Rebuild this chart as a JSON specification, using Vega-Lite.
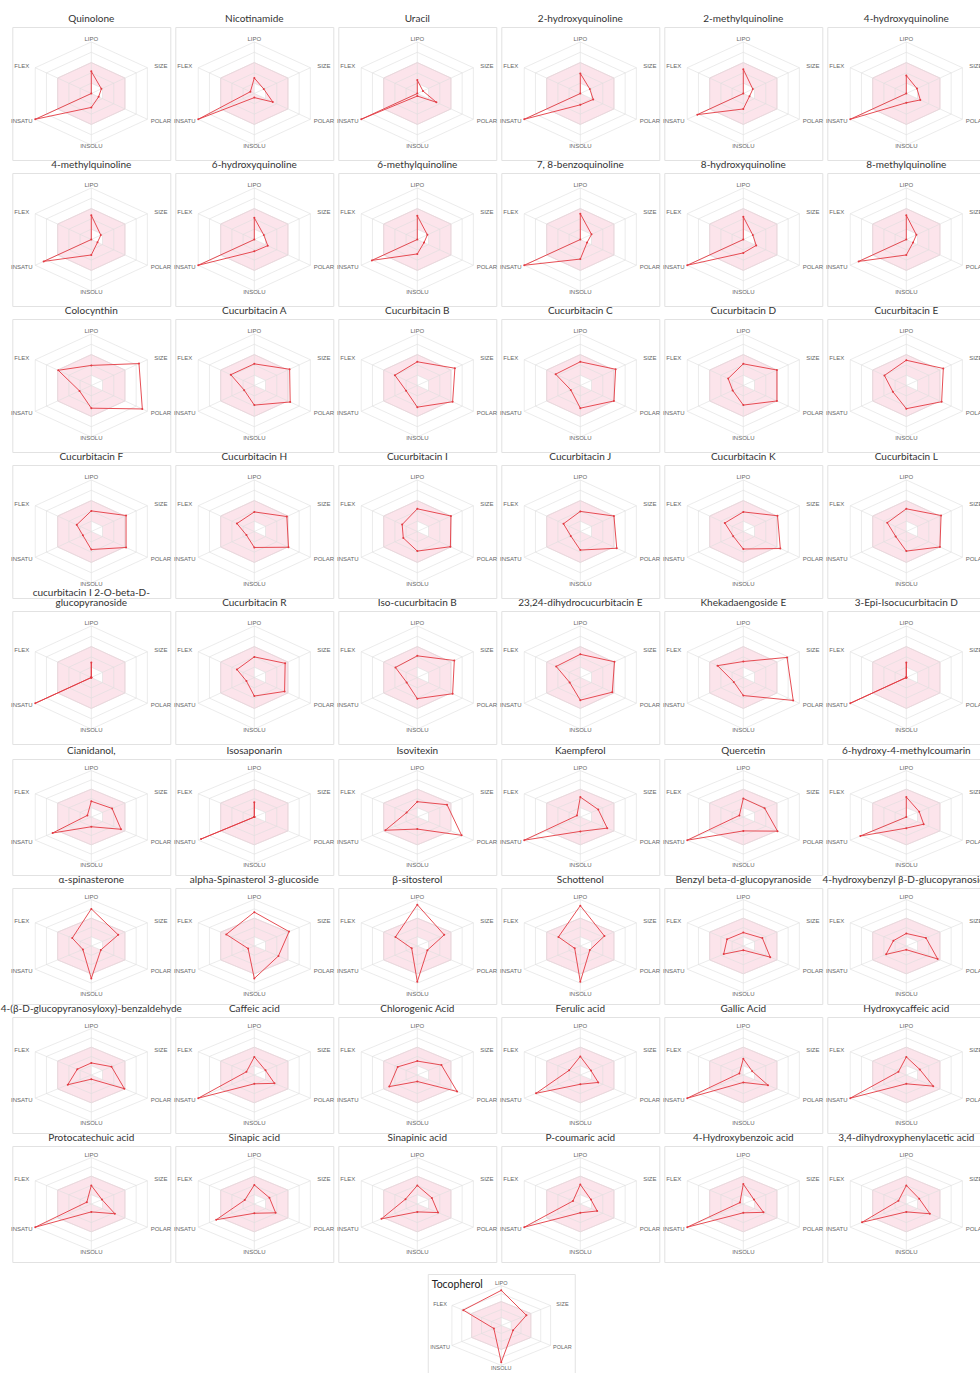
{
"$schema": "https://vega.github.io/schema/vega-lite/v6.json",
"padding": {"left": 0, "top": 13, "right": 0, "bottom": 0},
"background": "white",
"config": {"view": {"stroke": "#e2e2e2", "strokeWidth": 1}, "font": "Lato"},
"datasets": {
"d1": [
{"i":1,"m":"Quinolone","LIPO":0.43,"SIZE":0.18,"POLAR":0.13,"INSOLU":0.27,"INSATU":1.0,"FLEX":0},
{"i":2,"m":"Nicotinamide","LIPO":0.30,"SIZE":0.17,"POLAR":0.33,"INSOLU":0.08,"INSATU":1.0,"FLEX":0.07},
{"i":3,"m":"Uracil","LIPO":0.26,"SIZE":0.10,"POLAR":0.34,"INSOLU":0.05,"INSATU":1.0,"FLEX":0},
{"i":4,"m":"2-hydroxyquinoline","LIPO":0.39,"SIZE":0.17,"POLAR":0.23,"INSOLU":0.22,"INSATU":1.0,"FLEX":0},
{"i":5,"m":"2-methylquinoline","LIPO":0.47,"SIZE":0.17,"POLAR":0.11,"INSOLU":0.30,"INSATU":0.82,"FLEX":0},
{"i":6,"m":"4-hydroxyquinoline","LIPO":0.35,"SIZE":0.19,"POLAR":0.25,"INSOLU":0.18,"INSATU":1.0,"FLEX":0},
{"i":7,"m":"4-methylquinoline","LIPO":0.47,"SIZE":0.17,"POLAR":0.11,"INSOLU":0.30,"INSATU":0.85,"FLEX":0},
{"i":8,"m":"6-hydroxyquinoline","LIPO":0.42,"SIZE":0.17,"POLAR":0.24,"INSOLU":0.23,"INSATU":1.0,"FLEX":0},
{"i":9,"m":"6-methylquinoline","LIPO":0.46,"SIZE":0.18,"POLAR":0.12,"INSOLU":0.28,"INSATU":0.81,"FLEX":0},
{"i":10,"m":"7, 8-benzoquinoline","LIPO":0.50,"SIZE":0.20,"POLAR":0.12,"INSOLU":0.38,"INSATU":1.0,"FLEX":0},
{"i":11,"m":"8-hydroxyquinoline","LIPO":0.44,"SIZE":0.17,"POLAR":0.23,"INSOLU":0.26,"INSATU":1.0,"FLEX":0},
{"i":12,"m":"8-methylquinoline","LIPO":0.47,"SIZE":0.18,"POLAR":0.12,"INSOLU":0.30,"INSATU":0.85,"FLEX":0},
{"i":13,"m":"Colocynthin","LIPO":0.39,"SIZE":0.85,"POLAR":0.91,"INSOLU":0.44,"INSATU":0.21,"FLEX":0.59},
{"i":14,"m":"Cucurbitacin A","LIPO":0.42,"SIZE":0.63,"POLAR":0.64,"INSOLU":0.38,"INSATU":0.18,"FLEX":0.42},
{"i":15,"m":"Cucurbitacin B","LIPO":0.46,"SIZE":0.67,"POLAR":0.63,"INSOLU":0.42,"INSATU":0.20,"FLEX":0.40},
{"i":16,"m":"Cucurbitacin C","LIPO":0.46,"SIZE":0.63,"POLAR":0.60,"INSOLU":0.44,"INSATU":0.17,"FLEX":0.44},
{"i":17,"m":"Cucurbitacin D","LIPO":0.42,"SIZE":0.60,"POLAR":0.60,"INSOLU":0.38,"INSATU":0.19,"FLEX":0.27},
{"i":18,"m":"Cucurbitacin E","LIPO":0.49,"SIZE":0.66,"POLAR":0.63,"INSOLU":0.45,"INSATU":0.24,"FLEX":0.39},
{"i":19,"m":"Cucurbitacin F","LIPO":0.40,"SIZE":0.62,"POLAR":0.62,"INSOLU":0.35,"INSATU":0.15,"FLEX":0.26},
{"i":20,"m":"Cucurbitacin H","LIPO":0.38,"SIZE":0.58,"POLAR":0.61,"INSOLU":0.31,"INSATU":0.14,"FLEX":0.31},
{"i":21,"m":"Cucurbitacin I","LIPO":0.44,"SIZE":0.60,"POLAR":0.59,"INSOLU":0.38,"INSATU":0.25,"FLEX":0.27},
{"i":22,"m":"Cucurbitacin J","LIPO":0.39,"SIZE":0.60,"POLAR":0.65,"INSOLU":0.36,"INSATU":0.17,"FLEX":0.30},
{"i":23,"m":"Cucurbitacin K","LIPO":0.38,"SIZE":0.61,"POLAR":0.66,"INSOLU":0.34,"INSATU":0.18,"FLEX":0.33},
{"i":24,"m":"Cucurbitacin L","LIPO":0.44,"SIZE":0.62,"POLAR":0.60,"INSOLU":0.38,"INSATU":0.19,"FLEX":0.34},
{"i":25,"m":"cucurbitacin I 2-O-beta-D-glucopyranoside","LIPO":0.29,"SIZE":0,"POLAR":0,"INSOLU":0,"INSATU":1.0,"FLEX":0},
{"i":26,"m":"Cucurbitacin R","LIPO":0.40,"SIZE":0.55,"POLAR":0.54,"INSOLU":0.36,"INSATU":0.14,"FLEX":0.31},
{"i":27,"m":"Iso-cucurbitacin B","LIPO":0.42,"SIZE":0.66,"POLAR":0.63,"INSOLU":0.41,"INSATU":0.19,"FLEX":0.39},
{"i":28,"m":"23,24-dihydrocucurbitacin E","LIPO":0.45,"SIZE":0.61,"POLAR":0.57,"INSOLU":0.44,"INSATU":0.19,"FLEX":0.43},
{"i":29,"m":"Khekadaengoside E","LIPO":0.31,"SIZE":0.78,"POLAR":0.89,"INSOLU":0.35,"INSATU":0.17,"FLEX":0.46},
{"i":30,"m":"3-Epi-Isocucurbitacin D","LIPO":0.29,"SIZE":0,"POLAR":0,"INSOLU":0,"INSATU":1.0,"FLEX":0}
],
"d2": [
{"i":31,"m":"Cianidanol,","LIPO":0.34,"SIZE":0.37,"POLAR":0.53,"INSOLU":0.21,"INSATU":0.69,"FLEX":0.07},
{"i":32,"m":"Isosaponarin","LIPO":0.32,"SIZE":0,"POLAR":0,"INSOLU":0,"INSATU":0.95,"FLEX":0},
{"i":33,"m":"Isovitexin","LIPO":0.33,"SIZE":0.53,"POLAR":0.79,"INSOLU":0.26,"INSATU":0.57,"FLEX":0.19},
{"i":34,"m":"Kaempferol","LIPO":0.43,"SIZE":0.32,"POLAR":0.48,"INSOLU":0.31,"INSATU":1.0,"FLEX":0.06},
{"i":35,"m":"Quercetin","LIPO":0.40,"SIZE":0.38,"POLAR":0.61,"INSOLU":0.30,"INSATU":1.0,"FLEX":0.07},
{"i":36,"m":"6-hydroxy-4-methylcoumarin","LIPO":0.43,"SIZE":0.23,"POLAR":0.31,"INSOLU":0.24,"INSATU":0.82,"FLEX":0},
{"i":37,"m":"α-spinasterone","LIPO":0.80,"SIZE":0.48,"POLAR":0.17,"INSOLU":0.70,"INSATU":0.15,"FLEX":0.34},
{"i":38,"m":"alpha-Spinasterol 3-glucoside","LIPO":0.73,"SIZE":0.62,"POLAR":0.43,"INSOLU":0.70,"INSATU":0.11,"FLEX":0.50},
{"i":39,"m":"β-sitosterol","LIPO":0.89,"SIZE":0.48,"POLAR":0.18,"INSOLU":0.77,"INSATU":0.10,"FLEX":0.39},
{"i":40,"m":"Schottenol","LIPO":0.87,"SIZE":0.43,"POLAR":0.17,"INSOLU":0.77,"INSATU":0.10,"FLEX":0.39},
{"i":41,"m":"Benzyl beta-d-glucopyranoside","LIPO":0.29,"SIZE":0.34,"POLAR":0.48,"INSOLU":0.09,"INSATU":0.35,"FLEX":0.29},
{"i":42,"m":"4-hydroxybenzyl β-D-glucopyranoside","LIPO":0.27,"SIZE":0.35,"POLAR":0.56,"INSOLU":0.08,"INSATU":0.36,"FLEX":0.23},
{"i":43,"m":"4-(β-D-glucopyranosyloxy)-benzaldehyde","LIPO":0.26,"SIZE":0.36,"POLAR":0.59,"INSOLU":0.09,"INSATU":0.42,"FLEX":0.25},
{"i":44,"m":"Caffeic acid","LIPO":0.39,"SIZE":0.20,"POLAR":0.36,"INSOLU":0.19,"INSATU":1.0,"FLEX":0.14},
{"i":45,"m":"Chlorogenic Acid","LIPO":0.30,"SIZE":0.43,"POLAR":0.71,"INSOLU":0.14,"INSATU":0.50,"FLEX":0.35},
{"i":46,"m":"Ferulic acid","LIPO":0.40,"SIZE":0.19,"POLAR":0.32,"INSOLU":0.20,"INSATU":0.79,"FLEX":0.20},
{"i":47,"m":"Gallic Acid","LIPO":0.35,"SIZE":0.16,"POLAR":0.44,"INSOLU":0.16,"INSATU":1.0,"FLEX":0.07},
{"i":48,"m":"Hydroxycaffeic acid","LIPO":0.39,"SIZE":0.24,"POLAR":0.48,"INSOLU":0.19,"INSATU":1.0,"FLEX":0.14},
{"i":49,"m":"Protocatechuic acid","LIPO":0.40,"SIZE":0.19,"POLAR":0.42,"INSOLU":0.17,"INSATU":1.0,"FLEX":0.08},
{"i":50,"m":"Sinapic acid","LIPO":0.41,"SIZE":0.27,"POLAR":0.38,"INSOLU":0.20,"INSATU":0.68,"FLEX":0.17},
{"i":51,"m":"Sinapinic acid","LIPO":0.40,"SIZE":0.26,"POLAR":0.37,"INSOLU":0.17,"INSATU":0.64,"FLEX":0.21},
{"i":52,"m":"P-coumaric acid","LIPO":0.42,"SIZE":0.19,"POLAR":0.30,"INSOLU":0.19,"INSATU":1.0,"FLEX":0.13},
{"i":53,"m":"4-Hydroxybenzoic acid","LIPO":0.43,"SIZE":0.19,"POLAR":0.36,"INSOLU":0.19,"INSATU":1.0,"FLEX":0.06},
{"i":54,"m":"3,4-dihydroxyphenylacetic acid","LIPO":0.40,"SIZE":0.23,"POLAR":0.42,"INSOLU":0.17,"INSATU":0.79,"FLEX":0.14}
],
"d3": [
{"i":55,"m":"Tocopherol","LIPO":0.88,"SIZE":0.51,"POLAR":0.24,"INSOLU":0.92,"INSATU":0.15,"FLEX":0.77}
]
},
"vconcat": [
{
"vconcat": [
{
"data": {"name": "d1"},
"bounds": "flush",
"transform": [
{"fold": ["LIPO","SIZE","POLAR","INSOLU","INSATU","FLEX"], "as": ["p","v"]},
{"calculate": "indexof(['LIPO','SIZE','POLAR','INSOLU','INSATU','FLEX'], datum.p)", "as": "a"},
{"calculate": "sin(datum.a*PI/3)", "as": "s"},
{"calculate": "cos(datum.a*PI/3)", "as": "c"}
],
"facet": {"field": "m", "type": "nominal", "sort": {"field": "i", "op": "min"},
"header": {"title": null, "labelFontSize": 10, "labelFont": "Lato", "labelColor": "#333", "labelPadding": 3, "labelLineHeight": 10,
"labelExpr": "datum.value == 'cucurbitacin I 2-O-beta-D-glucopyranoside' ? ['cucurbitacin I 2-O-beta-D-', 'glucopyranoside'] : datum.value"}},
"columns": 6,
"spacing": {"row": 13, "column": 5},
"spec": {
"width": 158, "height": 133,
"encoding": {
"x": {"field": "px", "type": "quantitative", "scale": {"domain": [-1.22, 1.22]}, "axis": null},
"y": {"field": "py", "type": "quantitative", "scale": {"domain": [-1.29, 1.29]}, "axis": null}
},
"layer": [
{"transform": [{"calculate": "0.6*datum.s", "as": "px"}, {"calculate": "0.6*datum.c", "as": "py"}],
"mark": {"type": "line", "interpolate": "linear-closed", "fill": "#fce4eb", "stroke": "#f2cbd6", "strokeWidth": 0.8},
"encoding": {"order": {"field": "a"}}},
{"transform": [{"calculate": "(datum.a<=2?0.2:0)*datum.s", "as": "px"}, {"calculate": "(datum.a<=2?0.2:0)*datum.c", "as": "py"}],
"mark": {"type": "line", "interpolate": "linear-closed", "fill": "#ffffff", "strokeWidth": 0},
"encoding": {"order": {"field": "a"}}},
{"transform": [{"calculate": "[0.2,0.4,0.6,0.8,1]", "as": "lv"}, {"flatten": ["lv"]}, {"calculate": "datum.lv*datum.s", "as": "px"}, {"calculate": "datum.lv*datum.c", "as": "py"}],
"mark": {"type": "line", "interpolate": "linear-closed", "stroke": "#dedede", "strokeWidth": 0.6},
"encoding": {"order": {"field": "a"}, "detail": {"field": "lv"}}},
{"transform": [{"calculate": "datum.s", "as": "px"}, {"calculate": "datum.c", "as": "py"}],
"mark": {"type": "rule", "stroke": "#dedede", "strokeWidth": 0.6},
"encoding": {"x": {"datum": 0, "type": "quantitative", "axis": null}, "y": {"datum": 0, "type": "quantitative", "axis": null}, "x2": {"field": "px"}, "y2": {"field": "py"}}},
{"transform": [{"calculate": "datum.v*datum.s", "as": "px"}, {"calculate": "datum.v*datum.c", "as": "py"}],
"mark": {"type": "line", "interpolate": "linear-closed", "color": "#e33a42", "strokeWidth": 0.9, "point": {"filled": true, "size": 4, "color": "#e33a42"}},
"encoding": {"order": {"field": "a"}}},
{"transform": [{"calculate": "1.24*datum.s", "as": "px"}, {"calculate": "(datum.a==3?1.02:1.06)*datum.c", "as": "py"}],
"mark": {"type": "text", "fontSize": 6, "font": "Liberation Sans", "color": "#666"},
"encoding": {"text": {"field": "p"}}}
]
}
},
{
"data": {"name": "d2"},
"bounds": "flush",
"transform": [
{"fold": ["LIPO","SIZE","POLAR","INSOLU","INSATU","FLEX"], "as": ["p","v"]},
{"calculate": "indexof(['LIPO','SIZE','POLAR','INSOLU','INSATU','FLEX'], datum.p)", "as": "a"},
{"calculate": "sin(datum.a*PI/3)", "as": "s"},
{"calculate": "cos(datum.a*PI/3)", "as": "c"}
],
"facet": {"field": "m", "type": "nominal", "sort": {"field": "i", "op": "min"},
"header": {"title": null, "labelFontSize": 10, "labelFont": "Lato", "labelColor": "#333", "labelPadding": 3}},
"columns": 6,
"spacing": {"row": 13, "column": 5},
"spec": {
"width": 158, "height": 116,
"encoding": {
"x": {"field": "px", "type": "quantitative", "scale": {"domain": [-1.22, 1.22]}, "axis": null},
"y": {"field": "py", "type": "quantitative", "scale": {"domain": [-1.25, 1.25]}, "axis": null}
},
"layer": [
{"transform": [{"calculate": "0.6*datum.s", "as": "px"}, {"calculate": "0.6*datum.c", "as": "py"}],
"mark": {"type": "line", "interpolate": "linear-closed", "fill": "#fce4eb", "stroke": "#f2cbd6", "strokeWidth": 0.8},
"encoding": {"order": {"field": "a"}}},
{"transform": [{"calculate": "(datum.a<=2?0.2:0)*datum.s", "as": "px"}, {"calculate": "(datum.a<=2?0.2:0)*datum.c", "as": "py"}],
"mark": {"type": "line", "interpolate": "linear-closed", "fill": "#ffffff", "strokeWidth": 0},
"encoding": {"order": {"field": "a"}}},
{"transform": [{"calculate": "[0.2,0.4,0.6,0.8,1]", "as": "lv"}, {"flatten": ["lv"]}, {"calculate": "datum.lv*datum.s", "as": "px"}, {"calculate": "datum.lv*datum.c", "as": "py"}],
"mark": {"type": "line", "interpolate": "linear-closed", "stroke": "#dedede", "strokeWidth": 0.6},
"encoding": {"order": {"field": "a"}, "detail": {"field": "lv"}}},
{"transform": [{"calculate": "datum.s", "as": "px"}, {"calculate": "datum.c", "as": "py"}],
"mark": {"type": "rule", "stroke": "#dedede", "strokeWidth": 0.6},
"encoding": {"x": {"datum": 0, "type": "quantitative", "axis": null}, "y": {"datum": 0, "type": "quantitative", "axis": null}, "x2": {"field": "px"}, "y2": {"field": "py"}}},
{"transform": [{"calculate": "datum.v*datum.s", "as": "px"}, {"calculate": "datum.v*datum.c", "as": "py"}],
"mark": {"type": "line", "interpolate": "linear-closed", "color": "#e33a42", "strokeWidth": 0.9, "point": {"filled": true, "size": 4, "color": "#e33a42"}},
"encoding": {"order": {"field": "a"}}},
{"transform": [{"calculate": "1.24*datum.s", "as": "px"}, {"calculate": "(datum.a==3?1.03:1.06)*datum.c", "as": "py"}],
"mark": {"type": "text", "fontSize": 6, "font": "Liberation Sans", "color": "#666"},
"encoding": {"text": {"field": "p"}}}
]
}
}
],
"spacing": 0
},
{
"data": {"name": "d3"},
"transform": [
{"fold": ["LIPO","SIZE","POLAR","INSOLU","INSATU","FLEX"], "as": ["p","v"]},
{"calculate": "indexof(['LIPO','SIZE','POLAR','INSOLU','INSATU','FLEX'], datum.p)", "as": "a"},
{"calculate": "sin(datum.a*PI/3)", "as": "s"},
{"calculate": "cos(datum.a*PI/3)", "as": "c"}
],
"title": {"text": "Tocopherol", "anchor": "start", "offset": -16, "dx": 4, "fontSize": 10.5, "font": "Lato", "fontWeight": "normal", "color": "#222"},
"width": 147, "height": 103,
"encoding": {
"x": {"field": "px", "type": "quantitative", "scale": {"domain": [-1.29, 1.29]}, "axis": null},
"y": {"field": "py", "type": "quantitative", "scale": {"domain": [-1.29, 1.29]}, "axis": null}
},
"layer": [
{"transform": [{"calculate": "0.6*datum.s", "as": "px"}, {"calculate": "0.6*datum.c", "as": "py"}],
"mark": {"type": "line", "interpolate": "linear-closed", "fill": "#fce4eb", "stroke": "#f2cbd6", "strokeWidth": 0.8},
"encoding": {"order": {"field": "a"}}},
{"transform": [{"calculate": "(datum.a<=2?0.2:0)*datum.s", "as": "px"}, {"calculate": "(datum.a<=2?0.2:0)*datum.c", "as": "py"}],
"mark": {"type": "line", "interpolate": "linear-closed", "fill": "#ffffff", "strokeWidth": 0},
"encoding": {"order": {"field": "a"}}},
{"transform": [{"calculate": "[0.2,0.4,0.6,0.8,1]", "as": "lv"}, {"flatten": ["lv"]}, {"calculate": "datum.lv*datum.s", "as": "px"}, {"calculate": "datum.lv*datum.c", "as": "py"}],
"mark": {"type": "line", "interpolate": "linear-closed", "stroke": "#dedede", "strokeWidth": 0.6},
"encoding": {"order": {"field": "a"}, "detail": {"field": "lv"}}},
{"transform": [{"calculate": "datum.s", "as": "px"}, {"calculate": "datum.c", "as": "py"}],
"mark": {"type": "rule", "stroke": "#dedede", "strokeWidth": 0.6},
"encoding": {"x": {"datum": 0, "type": "quantitative", "axis": null}, "y": {"datum": 0, "type": "quantitative", "axis": null}, "x2": {"field": "px"}, "y2": {"field": "py"}}},
{"transform": [{"calculate": "datum.v*datum.s", "as": "px"}, {"calculate": "datum.v*datum.c", "as": "py"}],
"mark": {"type": "line", "interpolate": "linear-closed", "color": "#e33a42", "strokeWidth": 0.9, "point": {"filled": true, "size": 4, "color": "#e33a42"}},
"encoding": {"order": {"field": "a"}}},
{"transform": [{"calculate": "1.24*datum.s", "as": "px"}, {"calculate": "1.06*datum.c", "as": "py"}],
"mark": {"type": "text", "fontSize": 5.5, "font": "Liberation Sans", "color": "#666"},
"encoding": {"text": {"field": "p"}}}
]
}
],
"spacing": 10,
"center": true
}
